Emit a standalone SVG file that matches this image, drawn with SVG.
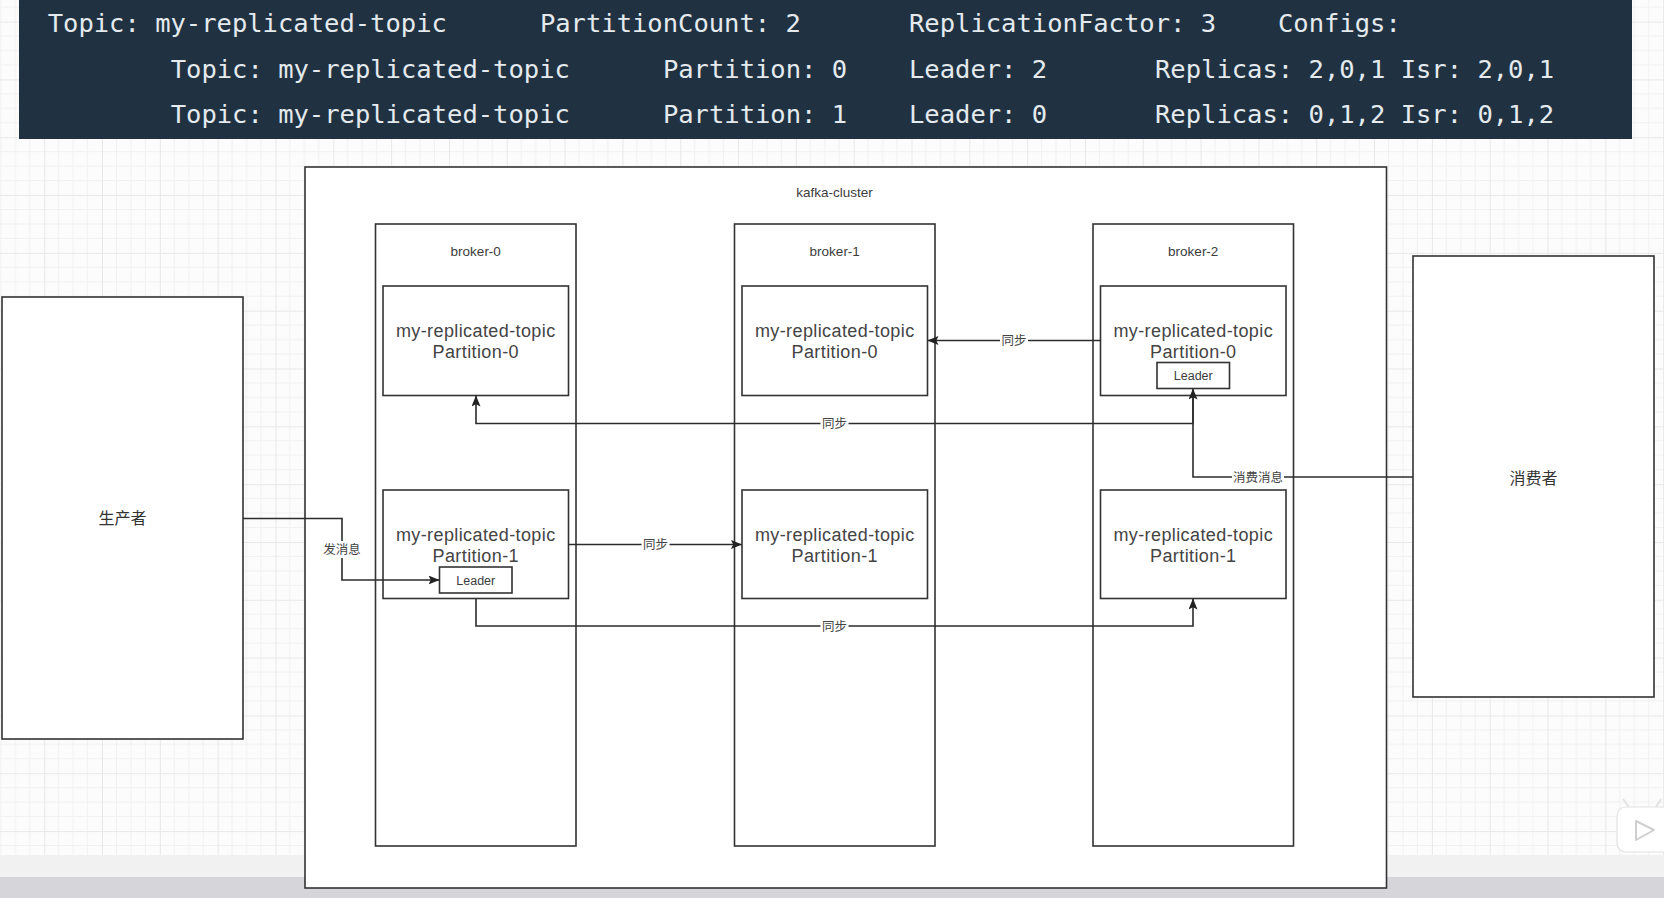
<svg xmlns="http://www.w3.org/2000/svg" width="1664" height="898" viewBox="0 0 1664 898">
<defs>
<pattern id="grid" patternUnits="userSpaceOnUse" x="44.2" y="21.6" width="57.82" height="57.82">
<rect width="57.82" height="57.82" fill="#fcfcfc"/>
<path d="M14.455,0V57.82M28.91,0V57.82M43.365,0V57.82M0,14.455H57.82M0,28.91H57.82M0,43.365H57.82" stroke="#f1f1f1" stroke-width="1" fill="none"/>
<path d="M0.5,0V57.82M0,0.5H57.82" stroke="#e8e8e8" stroke-width="1" fill="none"/>
</pattern>
<marker id="arr" viewBox="0 0 11 9" refX="11" refY="4.5" markerWidth="11" markerHeight="9" markerUnits="userSpaceOnUse" orient="auto">
<path d="M0,0 L11,4.5 L0,9 L2.2,4.5 Z" fill="#222"/>
</marker>
<style>
.band{font-family:"DejaVu Sans Mono",monospace;font-size:25.5px;fill:#e4eaee}
.box{fill:#fff;stroke:#333;stroke-width:1.6}
.t{font-family:"Liberation Sans","Noto Sans CJK SC",sans-serif;fill:#3c3c3c;text-anchor:middle}
.small{font-size:13.5px}
.part{font-size:18px;letter-spacing:0.4px;fill:#444}
.ld{font-size:12.5px}
.lbl{font-family:"Noto Sans CJK SC",sans-serif;font-size:12.5px;fill:#444;text-anchor:middle}
.big{font-family:"Noto Sans CJK SC",sans-serif;font-size:16px;fill:#333;text-anchor:middle}
.edge{fill:none;stroke:#2c2c2c;stroke-width:1.6}
.lbg{fill:#fff}
</style>
</defs>
<rect x="0" y="0" width="1664" height="898" fill="url(#grid)"/>
<rect x="0" y="855" width="1664" height="22" fill="#f1f1f1"/>
<rect x="0" y="877" width="1664" height="21" fill="#d6d6da"/>

<g id="terminal">
<rect x="19" y="0" width="1613" height="139" fill="#203242"/>
<text class="band" x="47.7" y="32">Topic: my-replicated-topic</text>
<text class="band" x="539.9" y="32">PartitionCount: 2</text>
<text class="band" x="909" y="32">ReplicationFactor: 3</text>
<text class="band" x="1278" y="32">Configs:</text>
<text class="band" x="170.7" y="78">Topic: my-replicated-topic</text>
<text class="band" x="662.9" y="78">Partition: 0</text>
<text class="band" x="909" y="78">Leader: 2</text>
<text class="band" x="1155" y="78">Replicas: 2,0,1 Isr: 2,0,1</text>
<text class="band" x="170.7" y="123">Topic: my-replicated-topic</text>
<text class="band" x="662.9" y="123">Partition: 1</text>
<text class="band" x="909" y="123">Leader: 0</text>
<text class="band" x="1155" y="123">Replicas: 0,1,2 Isr: 0,1,2</text>
</g>

<g id="producer">
<rect class="box" x="2" y="297" width="241" height="442"/>
<text class="big" x="122.5" y="523.5">生产者</text>
</g>

<g id="consumer">
<rect class="box" x="1413" y="256" width="241" height="441"/>
<text class="big" x="1533.5" y="483.5">消费者</text>
</g>

<g id="kafka-cluster">
<rect class="box" x="305" y="167" width="1081.5" height="721"/>
<text class="t small" x="834.5" y="197">kafka-cluster</text>
</g>

<g id="broker-0">
<rect class="box" x="375.5" y="224" width="200.5" height="622"/>
<text class="t small" x="475.75" y="256">broker-0</text>
</g>
<g id="broker-1">
<rect class="box" x="734.5" y="224" width="200.5" height="622"/>
<text class="t small" x="834.75" y="256">broker-1</text>
</g>
<g id="broker-2">
<rect class="box" x="1093" y="224" width="200.5" height="622"/>
<text class="t small" x="1193.25" y="256">broker-2</text>
</g>

<g id="b0-p0">
<rect class="box" x="383" y="286" width="185.5" height="109.5"/>
<text class="t part" x="475.75" y="337">my-replicated-topic</text>
<text class="t part" x="475.75" y="358">Partition-0</text>
</g>
<g id="b1-p0">
<rect class="box" x="742" y="286" width="185.5" height="109.5"/>
<text class="t part" x="834.75" y="337">my-replicated-topic</text>
<text class="t part" x="834.75" y="358">Partition-0</text>
</g>
<g id="b2-p0">
<rect class="box" x="1100.5" y="286" width="185.5" height="109.5"/>
<text class="t part" x="1193.25" y="337">my-replicated-topic</text>
<text class="t part" x="1193.25" y="358">Partition-0</text>
</g>
<g id="b2-p0-leader">
<rect class="box" x="1157" y="362.5" width="72.5" height="26"/>
<text class="t ld" x="1193.25" y="380">Leader</text>
</g>

<g id="b0-p1">
<rect class="box" x="383" y="490" width="185.5" height="108.5"/>
<text class="t part" x="475.75" y="541">my-replicated-topic</text>
<text class="t part" x="475.75" y="562">Partition-1</text>
</g>
<g id="b0-p1-leader">
<rect class="box" x="439.5" y="567" width="72.5" height="26"/>
<text class="t ld" x="475.75" y="584.5">Leader</text>
</g>
<g id="b1-p1">
<rect class="box" x="742" y="490" width="185.5" height="108.5"/>
<text class="t part" x="834.75" y="541">my-replicated-topic</text>
<text class="t part" x="834.75" y="562">Partition-1</text>
</g>
<g id="b2-p1">
<rect class="box" x="1100.5" y="490" width="185.5" height="108.5"/>
<text class="t part" x="1193.25" y="541">my-replicated-topic</text>
<text class="t part" x="1193.25" y="562">Partition-1</text>
</g>

<g id="connectors">
<path class="edge" d="M243,518.5 H342 V580 H439.5" marker-end="url(#arr)"/>
<path class="edge" d="M568.5,544.5 H742" marker-end="url(#arr)"/>
<path class="edge" d="M476,598.5 V626 H1193 V598.5" marker-end="url(#arr)"/>
<path class="edge" d="M1100.5,340.5 H927.5" marker-end="url(#arr)"/>
<path class="edge" d="M1193,395.5 V423.5 H476 V395.5" marker-end="url(#arr)"/>
<path class="edge" d="M1413,477 H1193 V388.5" marker-end="url(#arr)"/>

<rect class="lbg" x="326" y="541" width="32" height="17"/>
<text class="lbl" x="342" y="554">发消息</text>
<rect class="lbg" x="641.5" y="536" width="28" height="17"/>
<text class="lbl" x="655.5" y="549">同步</text>
<rect class="lbg" x="820.5" y="617.5" width="28" height="17"/>
<text class="lbl" x="834.5" y="630.5">同步</text>
<rect class="lbg" x="1000" y="332" width="28" height="17"/>
<text class="lbl" x="1014" y="345">同步</text>
<rect class="lbg" x="820.5" y="415" width="28" height="17"/>
<text class="lbl" x="834.5" y="428">同步</text>
<rect class="lbg" x="1232" y="468.5" width="52" height="17"/>
<text class="lbl" x="1258" y="481.5">消费消息</text>
</g>

<g id="watermark">
<rect x="1617" y="807" width="60" height="45" rx="9" fill="#ffffff" stroke="#e2e2e2" stroke-width="1.2"/>
<path d="M1629,807 L1623,799 M1656,807 L1661,799" stroke="#e2e2e2" stroke-width="2" fill="none"/>
<path d="M1636,821 L1654,830 L1636,840 Z" fill="none" stroke="#cfcfcf" stroke-width="2" stroke-linejoin="round"/>
</g>
</svg>
